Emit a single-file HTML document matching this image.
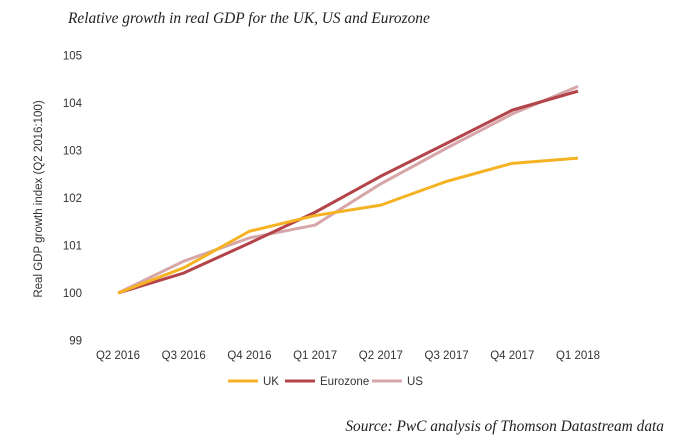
<!DOCTYPE html>
<html><head><meta charset="utf-8"><style>
body{margin:0;background:#fff;width:680px;height:448px;overflow:hidden}
svg{display:block}
</style></head><body>
<svg id="chart" width="680" height="448" font-family="Liberation Sans, sans-serif">
<text x="68" y="23" font-family="Liberation Serif, serif" font-style="italic" font-size="15.4" fill="#222">Relative growth in real GDP for the UK, US and Eurozone</text>
<text transform="translate(42,199) rotate(-90)" text-anchor="middle" font-size="11.5" fill="#333">Real GDP growth index (Q2 2016:100)</text>
<g id="yticks"></g><g id="xticks"></g><g id="lines"></g>
<g>
<line x1="228" y1="381" x2="258" y2="381" stroke="#f5b324" stroke-width="3"/><text x="263" y="385" font-size="11.5" fill="#333">UK</text>
<line x1="285" y1="381" x2="315" y2="381" stroke="#b3444a" stroke-width="3"/><text x="320" y="385" font-size="11.5" fill="#333">Eurozone</text>
<line x1="372" y1="381" x2="402" y2="381" stroke="#d6a6a8" stroke-width="3"/><text x="407" y="385" font-size="11.5" fill="#333">US</text>
</g>
<text x="664" y="431" text-anchor="end" font-family="Liberation Serif, serif" font-style="italic" font-size="15.4" fill="#222">Source: PwC analysis of Thomson Datastream data</text>
</svg>
<script>
const categories=["Q2 2016","Q3 2016","Q4 2016","Q1 2017","Q2 2017","Q3 2017","Q4 2017","Q1 2018"];
const ukValues=[100,100.53,101.3,101.63,101.85,102.35,102.73,102.84];
const euroValues=[100,100.42,101.05,101.7,102.46,103.15,103.85,104.25];
const usValues=[100,100.67,101.16,101.43,102.3,103.05,103.77,104.35];
const yTicks=[99,100,101,102,103,104,105];
const NS="http://www.w3.org/2000/svg";
const x=i=>118+i*(578-118)/(categories.length-1);
const y=v=>293-(v-100)*47.5;
const yt=document.getElementById('yticks');
yTicks.forEach(v=>{const t=document.createElementNS(NS,'text');t.setAttribute('x',82);t.setAttribute('y',y(v)+4);t.setAttribute('text-anchor','end');t.setAttribute('font-size','11.5');t.setAttribute('fill','#333');t.textContent=v;


yt.appendChild(t);});
const xt=document.getElementById('xticks');
categories.forEach((c,i)=>{const t=document.createElementNS(NS,'text');t.setAttribute('x',x(i));t.setAttribute('y',359);t.setAttribute('text-anchor','middle');t.setAttribute('font-size','11.5');t.setAttribute('fill','#333');t.textContent=c;


xt.appendChild(t);});
const lg=document.getElementById('lines');
[[usValues,'#d6a6a8','us-line'],[euroValues,'#b3444a','eurozone-line'],[ukValues,'#f5b324','uk-line']].forEach(([d,col,n])=>{const p=document.createElementNS(NS,'polyline');p.setAttribute('points',d.map((v,i)=>x(i)+','+y(v)).join(' '));p.setAttribute('fill','none');p.setAttribute('stroke',col);p.setAttribute('stroke-width','3');p.setAttribute('stroke-linejoin','round');


lg.appendChild(p);});
</script>
</body></html>
